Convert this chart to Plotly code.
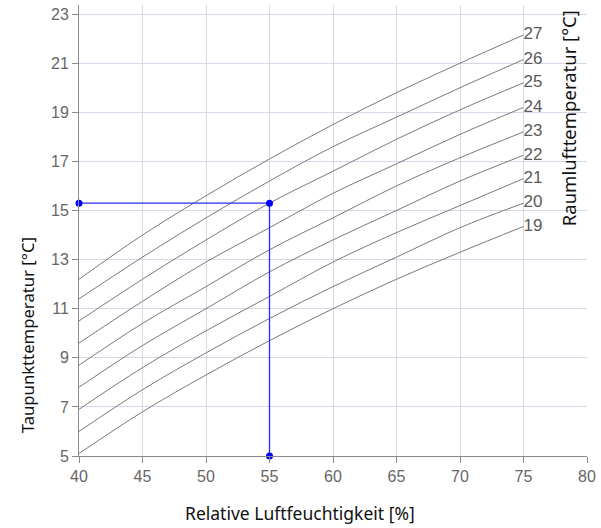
import plotly.graph_objects as go

rh = [40, 45, 50, 55, 60, 65, 70, 75]
room_temps = [19, 20, 21, 22, 23, 24, 25, 26, 27]
dew_19 = [5.1, 6.8, 8.3, 9.7, 11.0, 12.2, 13.3, 14.35]
dew_20 = [6.0, 7.7, 9.2, 10.6, 11.9, 13.1, 14.3, 15.3]
dew_21 = [6.9, 8.6, 10.1, 11.5, 12.9, 14.1, 15.2, 16.3]
dew_22 = [7.8, 9.5, 11.0, 12.5, 13.8, 15.0, 16.2, 17.25]
dew_23 = [8.7, 10.4, 11.9, 13.4, 14.7, 16.0, 17.15, 18.2]
dew_24 = [9.6, 11.3, 12.9, 14.3, 15.7, 16.9, 18.1, 19.2]
dew_25 = [10.5, 12.2, 13.8, 15.3, 16.6, 17.9, 19.1, 20.2]
dew_26 = [11.4, 13.1, 14.7, 16.2, 17.6, 18.8, 20.0, 21.15]
dew_27 = [12.2, 14.0, 15.6, 17.1, 18.5, 19.8, 21.0, 22.15]
curves = [dew_19, dew_20, dew_21, dew_22, dew_23, dew_24, dew_25, dew_26, dew_27]

marker_x = [40, 55, 55]
marker_y = [15.3, 15.3, 5]

x_ticks = [40, 45, 50, 55, 60, 65, 70, 75, 80]
y_ticks = [5, 7, 9, 11, 13, 15, 17, 19, 21, 23]

fig = go.Figure()
for t, vals in zip(room_temps, curves):
    fig.add_trace(go.Scatter(
        x=rh, y=vals, mode="lines", line=dict(color="#7a7a7a", width=1, shape="spline"),
        hoverinfo="skip", showlegend=False))
    fig.add_trace(go.Scatter(
        x=[rh[-1]], y=[vals[-1]], mode="text", text=[str(t)],
        textposition="middle right",
        textfont=dict(family="Liberation Sans", size=17, color="#5a5a5a"),
        hoverinfo="skip", showlegend=False))

fig.add_trace(go.Scatter(
    x=marker_x, y=marker_y, mode="lines+markers",
    line=dict(color="#2a2aff", width=1.3),
    marker=dict(color="#0000ff", size=7),
    hoverinfo="skip", showlegend=False, cliponaxis=False))

axis_common = dict(
    showgrid=True, gridcolor="#d3d9e6", gridwidth=1,
    showline=True, linecolor="#8a8a8a", linewidth=1,
    ticks="outside", ticklen=6, tickcolor="#8a8a8a",
    tickfont=dict(family="Liberation Sans", size=16, color="#666666"),
    zeroline=False,
)

fig.update_xaxes(range=[40, 80], tickvals=x_ticks, **axis_common)
fig.update_yaxes(range=[5, 23.37], tickvals=y_ticks, **axis_common)

fig.update_layout(
    width=601, height=528,
    margin=dict(l=79, r=14, t=5, b=72),
    paper_bgcolor="white", plot_bgcolor="white",
    annotations=[
        dict(text="Relative Luftfeuchtigkeit [%]", xref="paper", yref="paper",
             x=0.435, y=-0.126, xanchor="center", yanchor="middle",
             showarrow=False, font=dict(family="Noto Sans", size=17.5, color="#111111")),
        dict(text="Taupunkttemperatur [°C]", xref="paper", yref="paper",
             x=-0.102, y=0.268, xanchor="center", yanchor="middle", textangle=-90,
             showarrow=False, font=dict(family="Noto Sans", size=16.7, color="#111111")),
        dict(text="Raumlufttemperatur [°C]", xref="paper", yref="paper",
             x=0.9626, y=0.749, xanchor="center", yanchor="middle", textangle=-90,
             showarrow=False, font=dict(family="Noto Sans", size=18.5, color="#111111")),
    ],
)

fig.write_html("out.html")
